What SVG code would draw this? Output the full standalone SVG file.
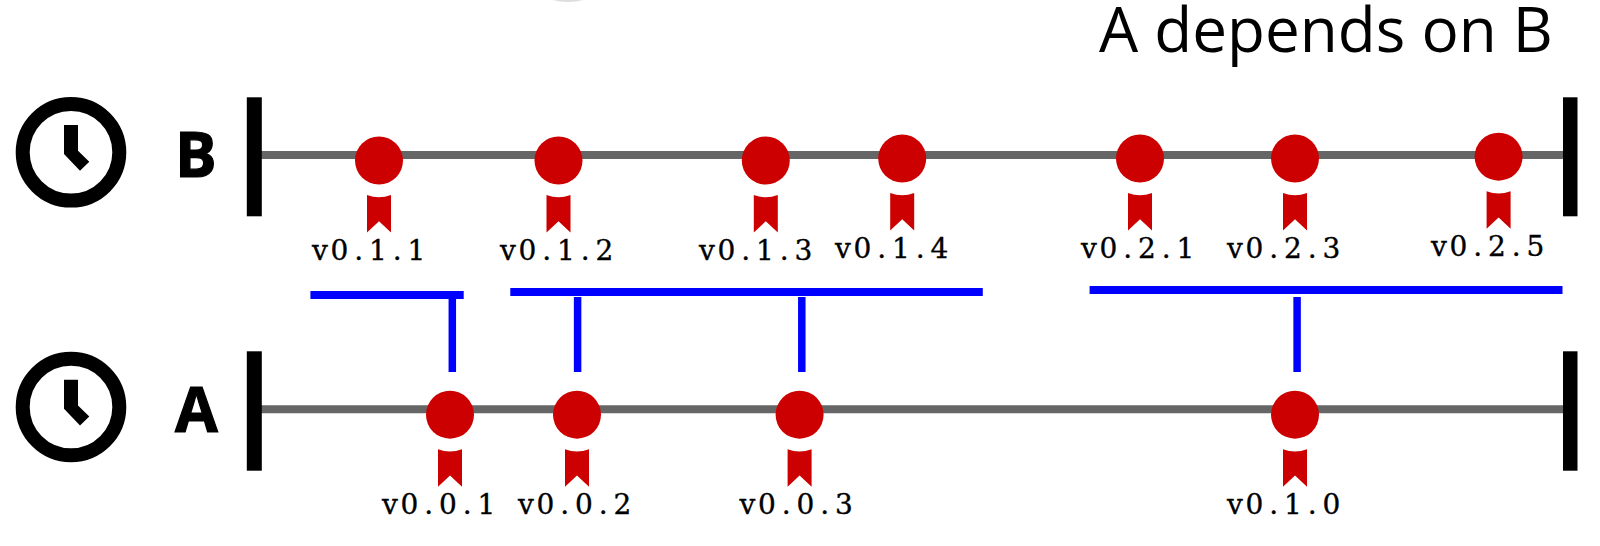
<svg xmlns="http://www.w3.org/2000/svg" width="1600" height="546" viewBox="0 0 1600 546">
<style>
.title{font-family:"Open Sans","Noto Sans",sans-serif;font-size:62px;fill:#000}
.lane{font-family:"Open Sans","Noto Sans",sans-serif;font-weight:700;font-size:62px;fill:#000;stroke:#000;stroke-width:1.2px}
.ver{font-family:"DejaVu Serif",serif;font-size:28px;fill:#000;stroke:#000;stroke-width:.35px;text-anchor:middle}
.axis{stroke:#666;stroke-width:8;fill:none}
.dep{stroke:#00f;fill:none}
.h{stroke-width:8}
.v{stroke-width:7.5}
.bar{fill:#000}
.red{fill:#c00}
</style>
<defs>
<g id="badge"><circle class="red" cx="0" cy="0" r="24"/><path class="red" d="M-12 34.5Q0 39 12 34.5V72L0 60.7L-12 72Z"/></g>
<g id="clock"><circle cx="71" cy="152.3" r="48.3" fill="none" stroke="#000" stroke-width="14"/><path d="M64 125H78V150.7L89.3 161.7L80 170.7L64 154Z" fill="#000"/></g>
</defs>
<rect width="1600" height="546" fill="#fff"/>
<ellipse cx="568" cy="-4" rx="20" ry="6" fill="#ddd"/>
<text class="title" x="1099" y="52">A depends on B</text>
<g id="connectors">
<path class="axis" d="M260 155H1564"/>
<path class="axis" d="M260 409.3H1564"/>
<path class="dep h" d="M310.4 295H463.7"/>
<path class="dep v" d="M452.3 295V372"/>
<path class="dep h" d="M510.3 292H982.8"/>
<path class="dep v" d="M577.6 297V372"/>
<path class="dep v" d="M801.8 297V372"/>
<path class="dep h" d="M1089.6 290H1562.5"/>
<path class="dep v" d="M1297.1 297V372"/>
</g>
<g id="lane-b">
<use href="#clock"/>
<text class="lane" x="175" y="177.3">B</text>
<rect class="bar" x="246.8" y="97.3" width="15" height="119"/>
<rect class="bar" x="1563" y="97.3" width="14.5" height="119"/>
</g>
<g id="lane-a">
<use href="#clock" y="254.7"/>
<text class="lane" x="175" y="432">A</text>
<rect class="bar" x="246.8" y="351.3" width="15" height="119.4"/>
<rect class="bar" x="1563" y="351.3" width="14.5" height="119.4"/>
</g>
<g id="b-v011"><use href="#badge" x="379" y="160.5"/><text class="ver" x="320 339.3 358.6 377.9 397.2 416.5" y="259.5">v0.1.1</text></g>
<g id="b-v012"><use href="#badge" x="558.5" y="160.5"/><text class="ver" x="508 527.3 546.6 565.9 585.2 604.5" y="260">v0.1.2</text></g>
<g id="b-v013"><use href="#badge" x="765.8" y="160.5"/><text class="ver" x="707 726.3 745.6 764.9 784.2 803.5" y="260">v0.1.3</text></g>
<g id="b-v014"><use href="#badge" x="902.2" y="158.5"/><text class="ver" x="843 862.3 881.6 900.9 920.2 939.5" y="258">v0.1.4</text></g>
<g id="b-v021"><use href="#badge" x="1140" y="158.5"/><text class="ver" x="1089 1108.3 1127.6 1146.9 1166.2 1185.5" y="257.5">v0.2.1</text></g>
<g id="b-v023"><use href="#badge" x="1295" y="158.5"/><text class="ver" x="1235 1254.3 1273.6 1292.9 1312.2 1331.5" y="257.5">v0.2.3</text></g>
<g id="b-v025"><use href="#badge" x="1498.6" y="156.7"/><text class="ver" x="1439 1458.3 1477.6 1496.9 1516.2 1535.5" y="255.7">v0.2.5</text></g>
<g id="a-v001"><use href="#badge" x="450" y="414.7"/><text class="ver" x="390 409.3 428.6 447.9 467.2 486.5" y="514.3">v0.0.1</text></g>
<g id="a-v002"><use href="#badge" x="577" y="414.7"/><text class="ver" x="526 545.3 564.6 583.9 603.2 622.5" y="514.3">v0.0.2</text></g>
<g id="a-v003"><use href="#badge" x="799.6" y="414.7"/><text class="ver" x="747.5 766.8 786.1 805.4 824.7 844" y="514.3">v0.0.3</text></g>
<g id="a-v010"><use href="#badge" x="1295" y="414.7"/><text class="ver" x="1235 1254.3 1273.6 1292.9 1312.2 1331.5" y="514.3">v0.1.0</text></g>
</svg>
